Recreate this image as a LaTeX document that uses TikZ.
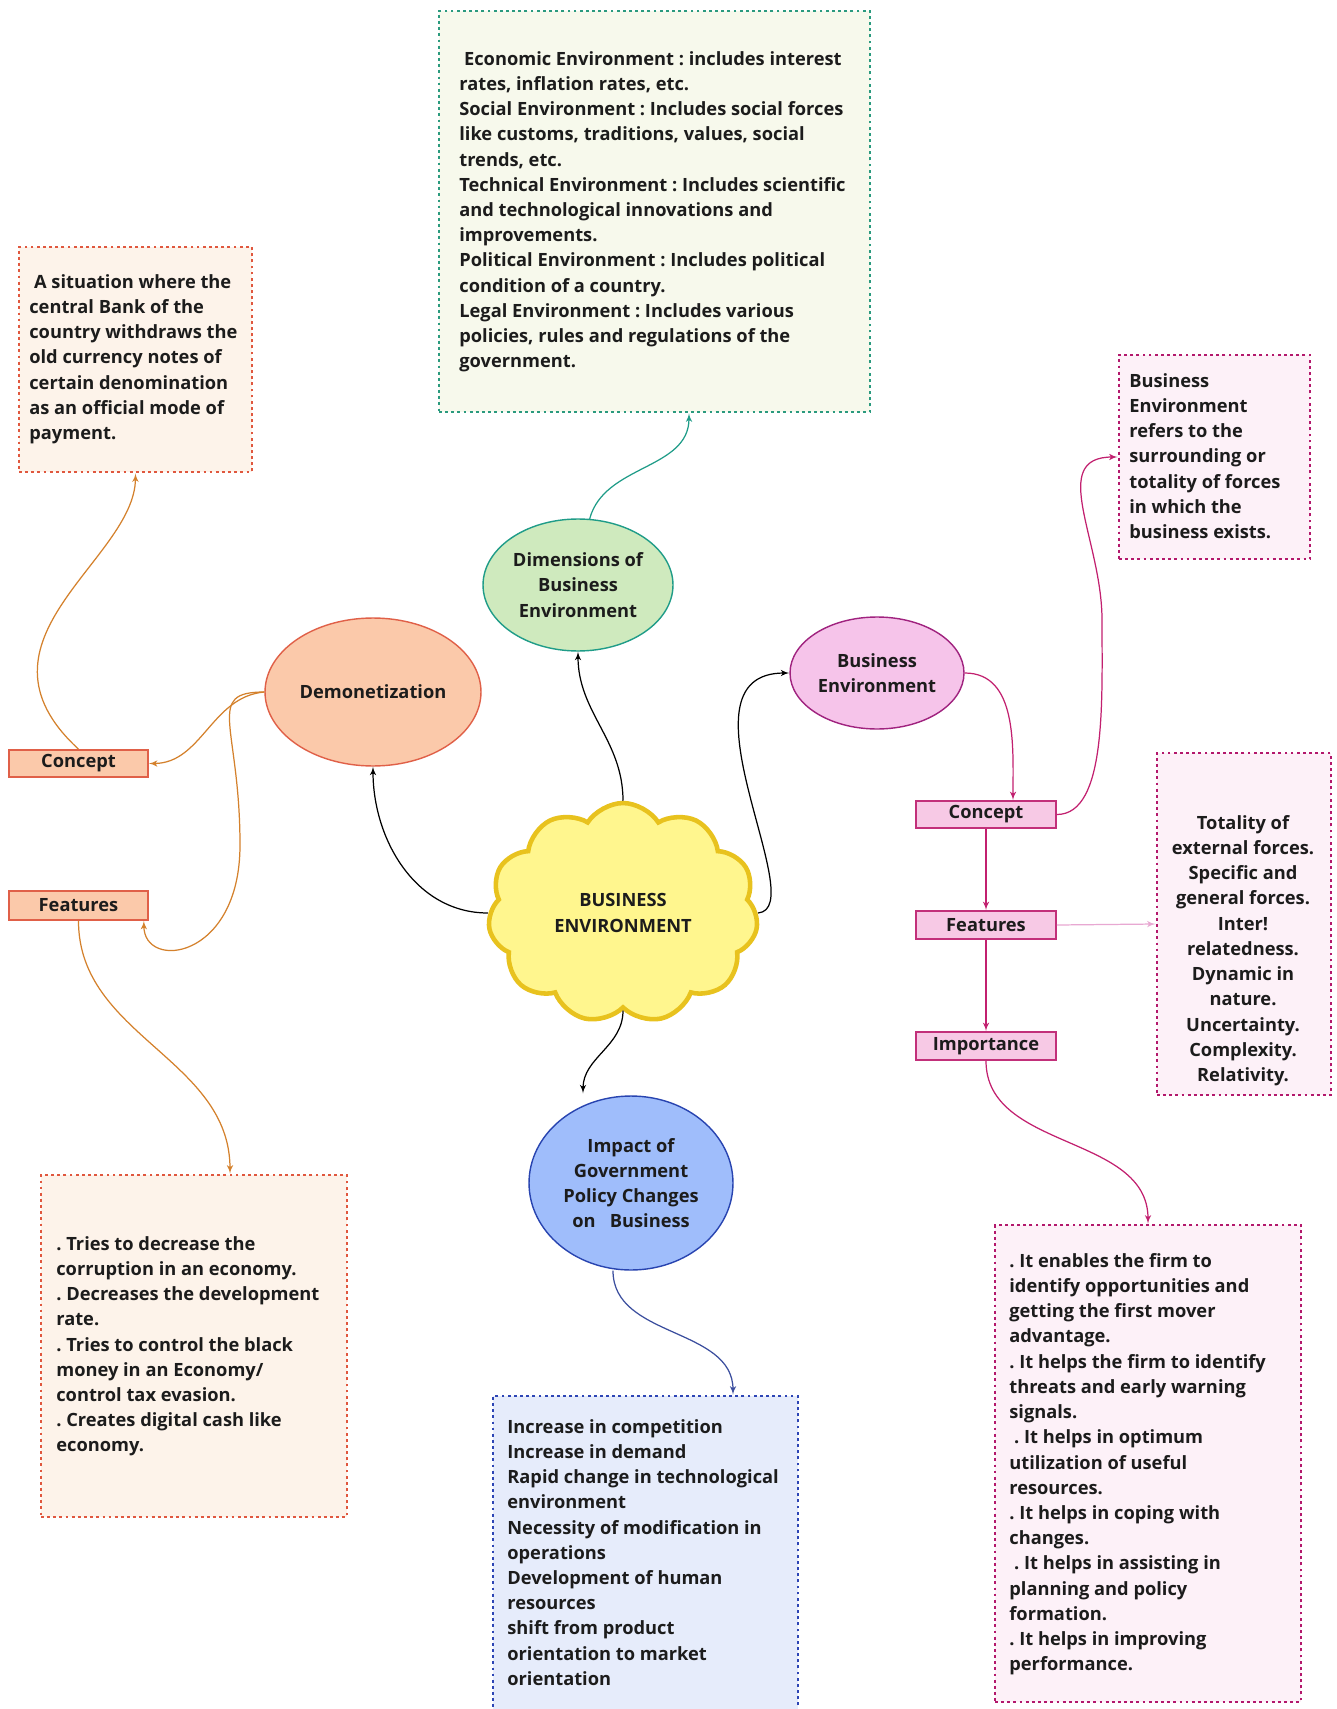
\documentclass[tikz,border=0pt]{standalone}
\usepackage{fontspec}
\setmainfont{Open Sans}
\usetikzlibrary{arrows,calc,shapes.geometric,shapes.symbols}
\definecolor{inktext}{HTML}{1C1C1C}
\definecolor{orline}{HTML}{D4812C}
\definecolor{orfill}{HTML}{FBC9AA}
\definecolor{oredge}{HTML}{E06048}
\definecolor{orpale}{HTML}{FDF3EA}
\definecolor{ordot}{HTML}{E0573E}
\definecolor{pkline}{HTML}{C2206F}
\definecolor{pklight}{HTML}{E8A8D2}
\definecolor{pkfill}{HTML}{F6C4EA}
\definecolor{pkedge}{HTML}{A0237F}
\definecolor{pkbox}{HTML}{F7C9E5}
\definecolor{pkboxedge}{HTML}{C2307A}
\definecolor{pkpale}{HTML}{FDF1F8}
\definecolor{pkdot}{HTML}{B3186C}
\definecolor{grfill}{HTML}{CFEABE}
\definecolor{gredge}{HTML}{1F9C88}
\definecolor{grpale}{HTML}{F7F9EC}
\definecolor{grdot}{HTML}{2A9A7E}
\definecolor{blfill}{HTML}{9FBDFB}
\definecolor{bledge}{HTML}{2844B0}
\definecolor{blpale}{HTML}{E6ECFB}
\definecolor{bldot}{HTML}{2D45B5}
\definecolor{blline}{HTML}{3B4E9E}
\definecolor{cloudfill}{HTML}{FFF68E}
\definecolor{cloudedge}{HTML}{E8C21E}
\frenchspacing
\tikzset{font=\bfseries\fontsize{10.4}{14.35}\selectfont}
\tikzset{every node/.append style={text=inktext}}

\begin{document}
\begin{tikzpicture}[x=0.02cm, y=-0.02cm,
  dotbox/.style={line width=1.6pt, dash pattern=on 1.6pt off 1.9pt},
  txt/.style={inner sep=0pt, anchor=north west, align=left},
  lbl/.style={rectangle, inner sep=0pt, line width=1pt},
  bubble/.style={ellipse, inner sep=0pt, line width=0.8pt, align=center},
  link/.style={line width=0.7pt, -latex'}]
\path[use as bounding box, fill=white] (0,0) rectangle (1336,1709);

% centre
\node[cloud, draw=cloudedge, fill=cloudfill, line width=2.6pt, cloud puffs=11,
  cloud puff arc=115, aspect=1.3, minimum width=5.4cm, minimum height=4.4cm,
  align=center] (biz) at (623,913) {BUSINESS\\ENVIRONMENT};

% ellipses
\node[bubble, draw=oredge, fill=orfill, minimum width=4.32cm, minimum height=2.96cm]
  (demo) at (373,692) {Demonetization};
\node[bubble, draw=gredge, fill=grfill, minimum width=3.8cm, minimum height=2.64cm]
  (dims) at (578,585) {Dimensions of\\Business\\Environment};
\node[bubble, draw=pkedge, fill=pkfill, minimum width=3.48cm, minimum height=2.24cm]
  (bizenv) at (877,673) {Business\\Environment};
\node[bubble, draw=bledge, fill=blfill, minimum width=4.08cm, minimum height=3.48cm]
  (impact) at (631,1183) {Impact of\\Government\\Policy Changes\\on\ \ \ Business};

% text boxes
\node[dotbox, draw=grdot, fill=grpale, minimum width=8.62cm, minimum height=8.02cm] (dimbox) at (654.5,211.5) {};
\node[txt] (dimtxt) at (459,51) {\ Economic Environment : includes interest\\
  rates, inflation rates, etc.\\
  Social Environment : Includes social forces\\
  like customs, traditions, values, social\\
  trends, etc.\\
  Technical Environment : Includes scientific\\
  and technological innovations and\\
  improvements.\\
  Political Environment : Includes political\\
  condition of a country.\\
  Legal Environment : Includes various\\
  policies, rules and regulations of the\\
  government.};

\node[dotbox, draw=ordot, fill=orpale, minimum width=4.66cm, minimum height=4.5cm] (defbox) at (135.5,359.5) {};
\node[txt] (deftxt) at (29,274) {\ A situation where the\\ central Bank of the\\
  country withdraws the\\ old currency notes of\\ certain denomination\\
  as an official mode of\\ payment.};

\node[dotbox, draw=ordot, fill=orpale, minimum width=6.12cm, minimum height=6.84cm] (demfeatbox) at (194,1346) {};
\node[txt] (demfeattxt) at (56,1236) {. Tries to decrease the\\ corruption in an economy.\\
  . Decreases the development\\ rate.\\ . Tries to control the black\\
  money in an Economy/\\ control tax evasion.\\ . Creates digital cash like\\ economy.};

\node[dotbox, draw=bldot, fill=blpale, minimum width=6.1cm, minimum height=6.48cm] (impbox) at (645.5,1558) {};
\node[txt] (imptxt) at (507,1419) {Increase in competition\\ Increase in demand\\
  Rapid change in technological\\ environment\\ Necessity of modification in\\
  operations\\ Development of human\\ resources\\ shift from product\\
  orientation to market\\ orientation};

\node[dotbox, draw=pkdot, fill=pkpale, minimum width=3.82cm, minimum height=4.08cm] (bedefbox) at (1214.5,457) {};
\node[txt] (bedeftxt) at (1129,373) {Business\\ Environment\\ refers to the\\
  surrounding or\\ totality of forces\\ in which the\\ business exists.};

\node[dotbox, draw=pkdot, fill=pkpale, minimum width=3.48cm, minimum height=6.84cm] (befeatbox) at (1244,924) {};
\node[txt, anchor=north, align=center] (befeattxt) at (1243,815) {Totality of\\
  external forces.\\ Specific and\\ general forces.\\ Inter!\\ relatedness.\\
  Dynamic in\\ nature.\\ Uncertainty.\\ Complexity.\\ Relativity.};

\node[dotbox, draw=pkdot, fill=pkpale, minimum width=6.12cm, minimum height=9.54cm] (beimpbox) at (1148,1463.5) {};
\node[txt] (beimptxt) at (1009,1253) {. It enables the firm to\\ identify opportunities and\\
  getting the first mover\\ advantage.\\ . It helps the firm to identify\\
  threats and early warning\\ signals.\\ \ . It helps in optimum\\
  utilization of useful\\ resources.\\ . It helps in coping with\\ changes.\\
  \ . It helps in assisting in\\ planning and policy\\ formation.\\
  . It helps in improving\\ performance.};

% small labels
\node[lbl, draw=oredge, fill=orfill, minimum width=2.78cm, minimum height=0.54cm] (demcon) at (78.5,763.5) {Concept};
\node[lbl, draw=oredge, fill=orfill, minimum width=2.78cm, minimum height=0.58cm] (demfeat) at (78.5,905.5) {Features};
\node[lbl, draw=pkboxedge, fill=pkbox, minimum width=2.8cm, minimum height=0.54cm] (becon) at (986,814.5) {Concept};
\node[lbl, draw=pkboxedge, fill=pkbox, minimum width=2.8cm, minimum height=0.56cm] (befeat) at (986,925) {Features};
\node[lbl, draw=pkboxedge, fill=pkbox, minimum width=2.8cm, minimum height=0.56cm] (beimp) at (986,1046) {Importance};

% from the centre
\draw[link] (biz.west) to[out=180,in=-90] (demo.south);
\draw[link] (biz.north) to[out=90,in=-90] (dims.south);
\draw[link] (biz.east) .. controls +(55,-5) and +(-120,0) .. (bizenv.west);
\draw[link] (biz.south) to[out=-90,in=90] ($(impact.north)+(-48,-2)$);

% dimensions, impact
\draw[link, gredge] (dims.80) to[out=75,in=-90] ($(dimbox.south)+(34.5,0)$);
\draw[link, blline] ($(impact.south)+(-18,0)$) to[out=-90,in=90] ($(impbox.north)+(87.5,0)$);

% demonetization
\draw[link, orline] (demo.west) to[out=185,in=0] (demcon.east);
\draw[link, orline] (demo.west) .. controls +(-60,0) and +(0,-120) .. (240,845)
  .. controls +(0,115) and +(0,50) .. ($(demfeat.south east)+(-5,0)$);
\draw[link, orline] (demcon.north) .. controls (-40,640) and (135,560) .. (defbox.south);
\draw[link, orline] (demfeat.south) to[out=-90,in=90] ($(demfeatbox.north)+(36,0)$);

% business environment
\draw[link, pkline] (bizenv.east) to[out=0,in=90] ($(becon.north)+(27,0)$);
\draw[link, pkline] (becon.east) .. controls +(50,0) and +(0,80) .. (1102,620)
  .. controls +(0,-80) and +(-70,0) .. (bedefbox.west);
\draw[link, pkline] (becon) -- (befeat);
\draw[link, pkline] (befeat) -- (beimp);
\draw[link, pklight] (befeat.east) -- (befeatbox.west);
\draw[link, pkline] (beimp.south) to[out=-90,in=90] (beimpbox.north);
\end{tikzpicture}
\end{document}
